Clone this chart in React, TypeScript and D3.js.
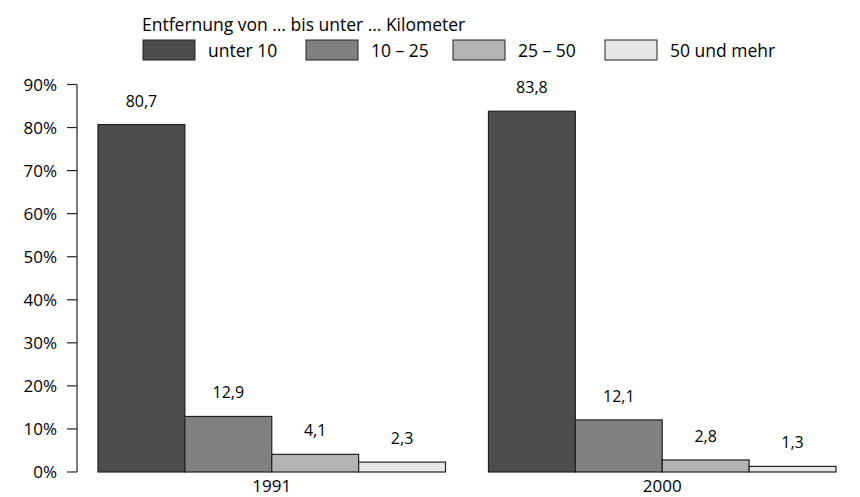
import React from "react";
import * as d3 from "d3";

const years = ["1991", "2000"];
const seriesNames = ["unter 10", "10 – 25", "25 – 50", "50 und mehr"];
const values1991 = [80.7, 12.9, 4.1, 2.3];
const values2000 = [83.8, 12.1, 2.8, 1.3];
const yTicks = [0, 10, 20, 30, 40, 50, 60, 70, 80, 90];
const legendTitle = "Entfernung von … bis unter … Kilometer";
const fills = ["#4d4d4d", "#808080", "#b3b3b3", "#e6e6e6"];

const W = 860;
const H = 497;
const font = "'Open Sans', 'Noto Sans', sans-serif";

export default function App() {
  const y = d3.scaleLinear().domain([0, 90]).range([472, 84.5]);
  const x = d3.scaleBand().domain(years).range([98, 836]).paddingInner(0.11).paddingOuter(0);
  const xi = d3.scaleBand().domain(seriesNames).range([0, x.bandwidth()]).padding(0);
  const data = [values1991, values2000];
  const fmt = (v: number) => d3.format(".1f")(v).replace(".", ",");

  const legendX = [143, 306, 453, 605];

  return (
    <svg width={W} height={H} style={{ position: "absolute", left: 0, top: 0, background: "#fff" }} fontFamily={font}>
      {/* legend */}
      <text x={142} y={30.5} fontSize={17.5} fill="#000">{legendTitle}</text>
      {seriesNames.map((s, i) => (
        <g key={s}>
          <rect x={legendX[i]} y={40} width={52} height={20} fill={fills[i]} stroke="#222" strokeWidth={1} />
          <text x={legendX[i] + 65} y={56.5} fontSize={17.5} fill="#000">{s}</text>
        </g>
      ))}
      {/* y axis */}
      <line x1={77} x2={77} y1={y(90)} y2={y(0)} stroke="#222" strokeWidth={1.2} />
      {yTicks.map((t) => (
        <g key={t}>
          <line x1={67} x2={77} y1={y(t)} y2={y(t)} stroke="#222" strokeWidth={1.2} />
          <text x={57} y={y(t)} dy="0.36em" textAnchor="end" fontSize={17} fill="#000">{t + "%"}</text>
        </g>
      ))}
      {/* bars */}
      {years.map((yr, gi) => (
        <g key={yr} transform={`translate(${x(yr)},0)`}>
          {data[gi].map((v, i) => (
            <g key={i}>
              <rect
                x={xi(seriesNames[i])}
                y={y(v)}
                width={xi.bandwidth()}
                height={y(0) - y(v)}
                fill={fills[i]}
                stroke="#222"
                strokeWidth={1.2}
              />
              <text
                x={(xi(seriesNames[i]) as number) + xi.bandwidth() / 2}
                y={y(v) - 18}
                textAnchor="middle"
                fontSize={16}
                fill="#000"
              >
                {fmt(v)}
              </text>
            </g>
          ))}
          <text x={x.bandwidth() / 2} y={492} textAnchor="middle" fontSize={17} fill="#000">{yr}</text>
        </g>
      ))}
    </svg>
  );
}
